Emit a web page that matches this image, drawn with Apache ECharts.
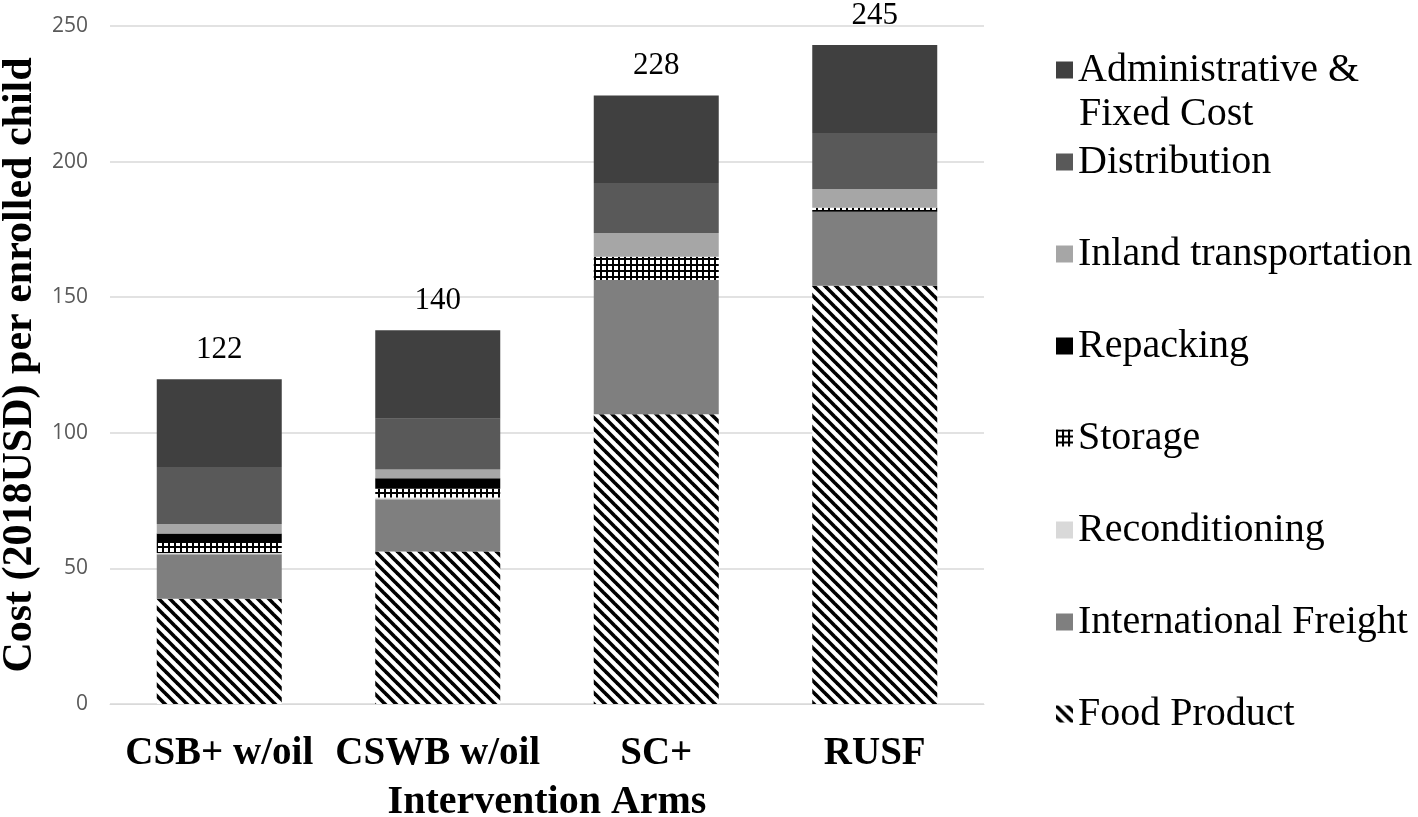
<!DOCTYPE html>
<html>
<head>
<meta charset="utf-8">
<script src="https://cdn.jsdelivr.net/npm/echarts@6/dist/echarts.min.js"></script>
<style>
html,body{margin:0;padding:0;background:#fff;}
#chart{width:1418px;height:817px;}
</style>
</head>
<body>
<div id="chart"></div>
<script>
const categories = ['CSB+ w/oil', 'CSWB w/oil', 'SC+', 'RUSF'];
const foodProduct = [38.8, 56.2, 106.8, 154.2];
const internationalFreight = [16.4, 19.3, 49.5, 27.3];
const reconditioning = [0.5, 0.6, 0, 0];
const storage = [3.7, 3.3, 8.6, 1.5];
const repacking = [3.5, 3.8, 0, 0];
const inlandTransportation = [3.5, 3.3, 8.8, 6.9];
const distribution = [21.0, 18.7, 18.4, 20.6];
const administrative = [32.3, 32.6, 32.3, 32.5];
const totals = [122, 140, 228, 245];
const yTicks = [0, 50, 100, 150, 200, 250];

function stripePattern() {
  const s = 11;
  const c = document.createElement('canvas');
  c.width = s; c.height = s;
  const g = c.getContext('2d');
  g.fillStyle = '#fff'; g.fillRect(0, 0, s, s);
  g.strokeStyle = '#000'; g.lineWidth = 3.6;
  for (let k = -1; k <= 1; k++) {
    g.beginPath();
    g.moveTo(k * s - 2, -2);
    g.lineTo(k * s + s + 2, s + 2);
    g.stroke();
  }
  return { image: c, repeat: 'repeat' };
}
function gridPattern() {
  const s = 6;
  const c = document.createElement('canvas');
  c.width = s; c.height = s;
  const g = c.getContext('2d');
  g.fillStyle = '#fff'; g.fillRect(0, 0, s, s);
  g.fillStyle = '#000';
  g.fillRect(0, 0, 2, s);
  g.fillRect(0, 0, s, 2);
  return { image: c, repeat: 'repeat' };
}

const serif = '"Liberation Serif", "Times New Roman", serif';
const chart = echarts.init(document.getElementById('chart'));

const seriesDefs = [
  { name: 'Food Product', data: foodProduct, color: stripePattern() },
  { name: 'International Freight', data: internationalFreight, color: '#7f7f7f' },
  { name: 'Reconditioning', data: reconditioning, color: '#d9d9d9' },
  { name: 'Storage', data: storage, color: gridPattern() },
  { name: 'Repacking', data: repacking, color: '#000000' },
  { name: 'Inland transportation', data: inlandTransportation, color: '#a6a6a6' },
  { name: 'Distribution', data: distribution, color: '#595959' },
  { name: 'Administrative & Fixed Cost', data: administrative, color: '#404040' }
];

const series = seriesDefs.map((d, i) => {
  const s = {
    name: d.name,
    type: 'bar',
    stack: 'total',
    barWidth: 125,
    data: d.data,
    itemStyle: { color: d.color },
    emphasis: { disabled: true },
    animation: false
  };
  if (i === seriesDefs.length - 1) {
    s.label = {
      show: true,
      position: 'top',
      distance: 14,
      formatter: p => String(totals[p.dataIndex]),
      fontFamily: serif,
      fontSize: 31,
      color: '#000'
    };
  }
  return s;
});

chart.setOption({
  backgroundColor: '#fff',
  animation: false,
  grid: { left: 110, right: 434, top: 26, bottom: 113, containLabel: false, outerBoundsMode: 'none' },
  legend: {
    orient: 'vertical',
    left: 1051,
    top: 45,
    itemWidth: 17,
    itemHeight: 17,
    itemGap: 52,
    icon: 'rect',
    data: ['Administrative & Fixed Cost', 'Distribution', 'Inland transportation', 'Repacking', 'Storage', 'Reconditioning', 'International Freight', 'Food Product'],
    formatter: n => n === 'Administrative & Fixed Cost' ? 'Administrative &' : n,
    textStyle: { fontFamily: serif, fontSize: 40, lineHeight: 40, color: '#000' }
  },
  graphic: [{
    type: 'text',
    left: 1079,
    top: 94,
    style: { text: 'Fixed Cost', font: '40px ' + serif, fill: '#000' }
  }],
  xAxis: {
    type: 'category',
    data: categories,
    name: 'Intervention Arms',
    nameLocation: 'middle',
    nameGap: 79,
    nameTextStyle: { fontFamily: serif, fontSize: 40, fontWeight: 'bold', color: '#000' },
    axisLine: { show: true, lineStyle: { color: '#d9d9d9', width: 1 } },
    axisTick: { show: false },
    axisLabel: { interval: 0, margin: 30, fontFamily: serif, fontSize: 39, fontWeight: 'bold', color: '#000' }
  },
  yAxis: {
    type: 'value',
    min: yTicks[0],
    max: yTicks[yTicks.length - 1],
    interval: 50,
    name: 'Cost (2018USD) per enrolled child',
    nameLocation: 'middle',
    nameGap: 68,
    nameTextStyle: { fontFamily: serif, fontSize: 42, fontWeight: 'bold', color: '#000' },
    axisLine: { show: false },
    axisTick: { show: false },
    splitLine: { lineStyle: { color: '#d9d9d9', width: 1.5 } },
    axisLabel: { margin: 22, fontFamily: '"Open Sans", "Liberation Sans", sans-serif', fontSize: 21, color: '#595959' }
  },
  series: series
});
</script>
</body>
</html>
